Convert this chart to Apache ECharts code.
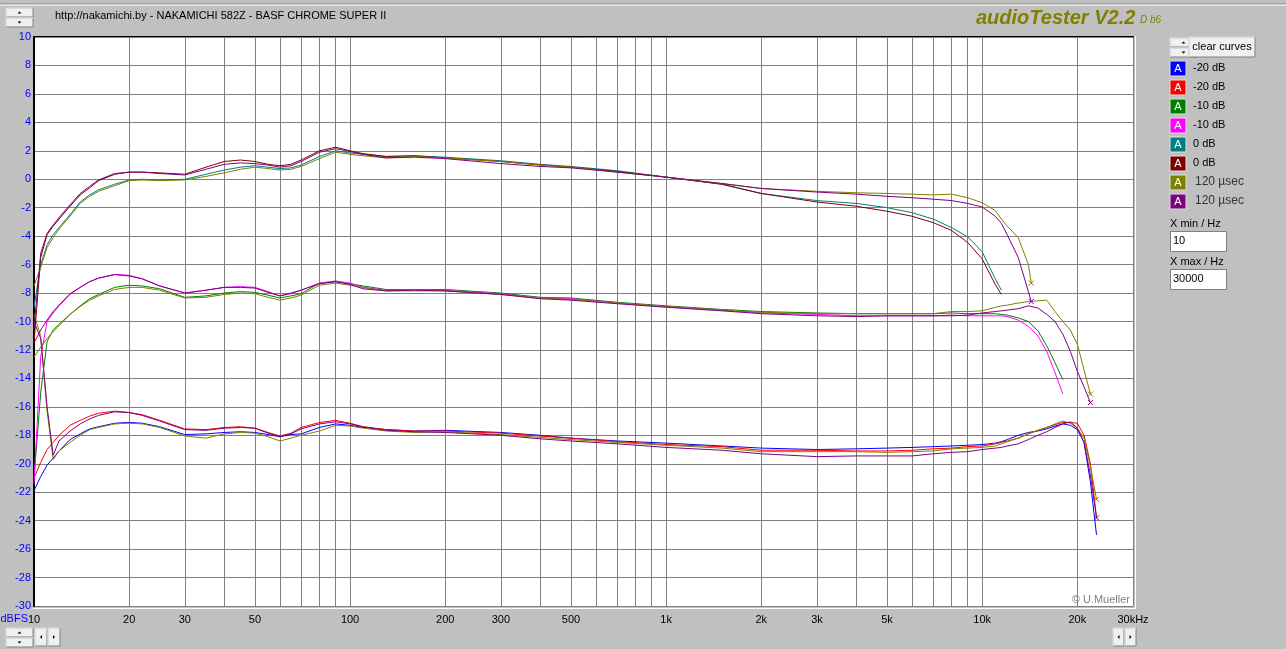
<!DOCTYPE html>
<html>
<head>
<meta charset="utf-8">
<title>NAKAMICHI 582Z - BASF CHROME SUPER II</title>
<script src="https://cdn.jsdelivr.net/npm/echarts@6/dist/echarts.min.js"></script>
<style>
  html, body { margin: 0; padding: 0; background: #c0c0c0; }
  #chart { width: 1286px; height: 649px; }
</style>
</head>
<body>
<div id="chart"></div>
<script>
// frequencies (Hz) shared by every curve
const FREQ = [10, 10.5, 11, 11.5, 12, 13, 14, 15, 16, 18,
  20, 22, 25, 30, 35, 40, 45, 50, 55, 60,
  65, 70, 80, 90, 100, 110, 130, 160, 200, 300,
  400, 500, 700, 1000, 1500, 2000, 3000, 4000, 5000, 6000,
  7000, 8000, 9000, 10000, 11000, 11500, 12000, 13000, 14000, 14300,
  15000, 16000, 17000, 18000, 19000, 20000, 21000, 22000, 23000]

// tick positions and labels of the frequency axis
const X_GRID = [10, 20, 30, 40, 50, 60, 70, 80, 90, 100, 200, 300, 400, 500, 600, 700, 800, 900,
  1000, 2000, 3000, 4000, 5000, 6000, 7000, 8000, 9000, 10000, 20000, 30000]
const X_LABELS = [10, 20, 30, 50, 100, 200, 300, 500, 1000, 2000, 3000, 5000, 10000, 20000, 30000]

// level in dB, null = curve has ended
const minus20Blue = [-21.9, -20.9, -20.1, -19.6, -19.1, -18.3, -17.9, -17.55, -17.4, -17.15,
  -17.1, -17.15, -17.4, -17.95, -17.9, -17.8, -17.75, -17.8, -17.95, -18.1,
  -17.95, -17.9, -17.45, -17.2, -17.3, -17.45, -17.6, -17.7, -17.65, -17.8,
  -18.0, -18.2, -18.4, -18.55, -18.75, -18.9, -19.0, -18.95, -18.9, -18.85,
  -18.8, -18.75, -18.7, -18.65, -18.55, -18.45, -18.3, -18.0, -17.8, null,
  -17.7, -17.55, -17.35, -17.2, -17.3, -17.6, -18.5, -21.3, -25.0]
const minus20Red = [-21.0, -19.9, -19.0, -18.5, -18.0, -17.3, -16.95, -16.65, -16.45, -16.3,
  -16.4, -16.55, -16.95, -17.55, -17.6, -17.45, -17.4, -17.5, -17.8, -18.05,
  -17.85, -17.45, -17.1, -16.95, -17.15, -17.4, -17.6, -17.7, -17.7, -17.85,
  -18.05, -18.2, -18.45, -18.65, -18.8, -19.05, -19.05, -19.1, -19.1, -19.05,
  -18.95, -18.9, -18.8, -18.75, -18.6, -18.5, -18.4, -18.2, -17.9, null,
  -17.65, -17.45, -17.25, -17.1, -17.1, -17.15, -18.0, -20.0, -23.8]
const minus10Green = [-21.0, -15.0, -11.4, -10.6, -10.2, -9.5, -8.9, -8.4, -8.1, -7.6,
  -7.45, -7.5, -7.7, -8.3, -8.2, -8.0, -7.9, -7.95, -8.15, -8.35,
  -8.2, -8.05, -7.3, -7.2, -7.35, -7.5, -7.75, -7.75, -7.75, -8.0,
  -8.3, -8.35, -8.65, -8.9, -9.15, -9.3, -9.4, -9.45, -9.45, -9.45,
  -9.45, -9.4, -9.45, -9.45, -9.45, -9.5, -9.55, -9.75, -10.0, null,
  -10.65, -11.7, -12.9, -14.1, null, null, null, null, null]
const minus10Magenta = [-21.4, -12.5, -10.0, -9.4, -8.9, -8.1, -7.6, -7.2, -6.95, -6.7,
  -6.75, -7.0, -7.5, -8.0, -7.8, -7.6, -7.55, -7.6, -7.9, -8.2,
  -8.05, -7.8, -7.3, -7.15, -7.3, -7.6, -7.8, -7.75, -7.8, -8.05,
  -8.35, -8.4, -8.7, -8.95, -9.2, -9.4, -9.5, -9.6, -9.6, -9.6,
  -9.6, -9.55, -9.6, -9.6, -9.6, -9.6, -9.65, -9.9, -10.35, null,
  -11.0, -12.1, -13.6, -15.1, null, null, null, null, null]
const zeroTeal = [-9.0, -6.0, -4.6, -3.9, -3.4, -2.5, -1.6, -1.1, -0.75, -0.35,
  -0.05, 0.0, -0.05, 0.0, 0.35, 0.65, 0.85, 0.95, 0.85, 0.75,
  0.8, 1.0, 1.6, 2.0, 1.85, 1.75, 1.6, 1.65, 1.55, 1.3,
  1.05, 0.9, 0.6, 0.15, -0.35, -1.0, -1.5, -1.7, -2.0, -2.35,
  -2.8, -3.4, -4.05, -5.1, -7.0, -7.8, null, null, null, null,
  null, null, null, null, null, null, null, null, null]
const zeroMaroon = [-11.5, -5.5, -3.9, -3.3, -2.8, -1.9, -1.1, -0.6, -0.1, 0.35,
  0.5, 0.5, 0.45, 0.35, 0.85, 1.25, 1.35, 1.25, 1.05, 0.95,
  1.05, 1.35, 2.0, 2.25, 2.0, 1.8, 1.6, 1.65, 1.5, 1.25,
  1.0, 0.85, 0.55, 0.15, -0.35, -1.0, -1.6, -1.9, -2.25, -2.6,
  -3.05, -3.6, -4.45, -5.6, -7.4, -8.1, null, null, null, null,
  null, null, null, null, null, null, null, null, null]
// 120 µsec curves at the three levels
const usecOlive0 = [-7.5, -6.2, -4.8, -4.1, -3.5, -2.6, -1.7, -1.2, -0.85, -0.45,
  -0.1, -0.05, -0.1, -0.05, 0.2, 0.45, 0.7, 0.85, 0.75, 0.65,
  0.7, 0.9, 1.45, 1.9, 1.75, 1.65, 1.5, 1.6, 1.5, 1.25,
  1.0, 0.85, 0.5, 0.15, -0.3, -0.65, -0.85, -0.95, -1.0, -1.05,
  -1.1, -1.05, -1.3, -1.65, -2.2, -2.8, -3.3, -4.1, -6.0, -7.3,
  null, null, null, null, null, null, null, null, null]
const usecPurple0 = [-10.5, -5.2, -3.8, -3.2, -2.7, -1.8, -1.0, -0.5, -0.05, 0.4,
  0.5, 0.5, 0.4, 0.3, 0.7, 1.05, 1.15, 1.1, 1.0, 0.85,
  0.95, 1.25, 1.9, 2.15, 1.95, 1.75, 1.5, 1.55, 1.45, 1.1,
  0.9, 0.8, 0.5, 0.15, -0.3, -0.65, -0.9, -1.05, -1.2, -1.3,
  -1.4, -1.5, -1.7, -1.95, -2.6, -3.1, -3.9, -5.5, -7.9, -8.6,
  null, null, null, null, null, null, null, null, null]
const usecOliveM10 = [-12.5, -11.8, -11.2, -10.7, -10.3, -9.5, -8.95, -8.5, -8.2, -7.75,
  -7.6, -7.6, -7.8, -8.35, -8.3, -8.1, -8.0, -8.05, -8.3, -8.5,
  -8.35, -8.15, -7.45, -7.3, -7.45, -7.6, -7.85, -7.85, -7.85, -8.1,
  -8.35, -8.45, -8.7, -8.95, -9.2, -9.35, -9.45, -9.45, -9.45, -9.45,
  -9.45, -9.3, -9.3, -9.25, -9.0, -8.9, -8.85, -8.7, -8.6, null,
  -8.55, -8.5, -9.3, -10.0, -10.6, -11.6, -13.4, -15.1, null]
const usecPurpleM10 = [-11.5, -10.6, -9.9, -9.3, -8.85, -8.05, -7.6, -7.2, -6.95, -6.7,
  -6.8, -7.0, -7.5, -8.0, -7.8, -7.6, -7.6, -7.65, -7.95, -8.2,
  -8.0, -7.8, -7.35, -7.2, -7.4, -7.7, -7.85, -7.8, -7.85, -8.1,
  -8.4, -8.5, -8.75, -9.0, -9.25, -9.45, -9.6, -9.65, -9.6, -9.6,
  -9.6, -9.6, -9.55, -9.4, -9.3, -9.25, -9.2, -9.1, -8.9, null,
  -9.05, -9.5, -10.0, -10.9, -12.1, -13.5, -14.6, -15.7, null]
const usecOliveM20 = [-9.5, -11.0, -16.3, -19.7, -19.1, -18.5, -18.0, -17.6, -17.45, -17.2,
  -17.15, -17.2, -17.45, -18.05, -18.2, -17.9, -17.8, -17.85, -18.1, -18.4,
  -18.2, -18.0, -17.7, -17.3, -17.35, -17.5, -17.7, -17.8, -17.75, -17.95,
  -18.15, -18.3, -18.5, -18.7, -18.9, -19.15, -19.15, -19.15, -19.2, -19.15,
  -19.1, -18.95, -18.9, -18.85, -18.75, -18.6, -18.45, -18.2, -17.9, null,
  -17.65, -17.45, -17.2, -17.0, -17.15, -17.5, -18.2, -20.2, -22.5]
const usecPurpleM20 = [-10.0, -11.2, -16.0, -19.4, -18.4, -17.7, -17.2, -16.85, -16.6, -16.35,
  -16.4, -16.6, -17.0, -17.6, -17.65, -17.5, -17.45, -17.5, -17.85, -18.1,
  -17.9, -17.55, -17.2, -17.05, -17.2, -17.4, -17.65, -17.75, -17.8, -18.0,
  -18.25, -18.4, -18.6, -18.85, -19.05, -19.3, -19.5, -19.45, -19.45, -19.45,
  -19.3, -19.2, -19.15, -19.0, -18.9, -18.85, -18.75, -18.6, -18.3, null,
  -18.0, -17.75, -17.45, -17.2, -17.05, -17.5, -18.5, -20.8, -23.8]

// legend entries shown in the side panel
const LEGEND_NAMES = ['-20 dB', '-20 dB', '-10 dB', '-10 dB', '0 dB', '0 dB', '120 µsec', '120 µsec']
const LEGEND_COLORS = ['#0000ff', '#ff0000', '#008000', '#ff00ff', '#008080', '#800000', '#808000', '#800080']

const FONT = 'Liberation Sans'
const CROSS = 'path://M0,0L10,10M10,0L0,10'

function curve(name, color, values, marked) {
  let last = -1
  values.forEach((v, i) => { if (v !== null) last = i })
  const data = FREQ.map((f, i) => {
    const v = values[i] === null ? '-' : values[i]
    if (marked && i === last) {
      return { value: [f, v], symbol: CROSS, symbolSize: 5,
        itemStyle: { color: 'none', borderColor: color, borderWidth: 1 } }
    }
    return [f, v]
  })
  return {
    name: name,
    type: 'line',
    data: data,
    symbol: 'none',
    connectNulls: true,
    silent: true,
    lineStyle: { color: color, width: 1 },
    itemStyle: { color: color },
    emphasis: { disabled: true }
  }
}

const series = [
  curve('-20 dB', '#0000ff', minus20Blue),
  curve('-20 dB', '#ff0000', minus20Red),
  curve('120 µsec', '#808000', usecOliveM20, true),
  curve('120 µsec', '#800080', usecPurpleM20, true),
  curve('-10 dB', '#008000', minus10Green),
  curve('-10 dB', '#ff00ff', minus10Magenta),
  curve('120 µsec', '#808000', usecOliveM10, true),
  curve('120 µsec', '#800080', usecPurpleM10, true),
  curve('0 dB', '#008080', zeroTeal),
  curve('0 dB', '#800000', zeroMaroon),
  curve('120 µsec', '#808000', usecOlive0, true),
  curve('120 µsec', '#800080', usecPurple0, true)
]

// window chrome: buttons, boxes, texts
function button(x, y, w, h) {
  return [
    { type: 'rect', shape: { x: x, y: y, width: w, height: h }, style: { fill: '#f0f0f0', stroke: '#808080', lineWidth: 1 } },
    { type: 'polyline', shape: { points: [[x, y + h], [x, y], [x + w, y]] }, style: { stroke: '#ffffff', lineWidth: 1 } }
  ]
}
function arrow(cx, cy, dir) {
  const p = dir === 'up' ? [[cx - 2, cy + 1], [cx + 2, cy + 1], [cx, cy - 1]]
    : dir === 'down' ? [[cx - 2, cy - 1], [cx + 2, cy - 1], [cx, cy + 1]]
    : dir === 'left' ? [[cx + 1, cy - 2], [cx + 1, cy + 2], [cx - 1, cy]]
    : [[cx - 1, cy - 2], [cx - 1, cy + 2], [cx + 1, cy]]
  return { type: 'polygon', shape: { points: p }, style: { fill: '#000' } }
}
function spinner(x, y) {
  return [].concat(button(x, y, 27, 9), button(x, y + 10, 27, 9),
    [arrow(x + 13.5, y + 4.5, 'up'), arrow(x + 13.5, y + 14.5, 'down')])
}
function text(str, x, y, extra) {
  return { type: 'text', x: x, y: y,
    style: Object.assign({ text: str, fontFamily: FONT, fontSize: 11, fill: '#000', verticalAlign: 'middle' }, extra || {}) }
}

let graphic = []
graphic.push({ type: 'line', shape: { x1: 0, y1: 4, x2: 1286, y2: 4 }, style: { stroke: '#808080', lineWidth: 1 } })
graphic.push({ type: 'line', shape: { x1: 0, y1: 5, x2: 1286, y2: 5 }, style: { stroke: '#ffffff', lineWidth: 1 } })
graphic = graphic.concat(spinner(6, 8))
graphic.push(text('http://nakamichi.by - NAKAMICHI 582Z - BASF CHROME SUPER II', 55, 16))
graphic.push(text('audioTester V2.2', 976, 18, { fontSize: 20, fontWeight: 'bold', fontStyle: 'italic', fill: '#808000' }))
graphic.push(text('D b6', 1140, 20, { fontSize: 10, fontStyle: 'italic', fill: '#808000' }))
// plot frame
graphic.push({ type: 'line', shape: { x1: 33, y1: 37, x2: 1134, y2: 37 }, style: { stroke: '#000', lineWidth: 2 } })
graphic.push({ type: 'line', shape: { x1: 33, y1: 608.5, x2: 1135, y2: 608.5 }, style: { stroke: '#ffffff', lineWidth: 1 } })
graphic.push({ type: 'line', shape: { x1: 1135.5, y1: 36, x2: 1135.5, y2: 609 }, style: { stroke: '#ffffff', lineWidth: 1 } })
graphic.push(text('dBFS', 28, 619, { fill: '#0000ff', align: 'right' }))
graphic.push(text('© U.Mueller', 1130, 600, { fill: '#808080', align: 'right' }))
// bottom controls
graphic = graphic.concat(spinner(6, 628), button(35, 628, 12, 18), button(48, 628, 12, 18),
  [arrow(41, 637, 'left'), arrow(54, 637, 'right')],
  button(1113, 628, 11, 18), button(1125, 628, 11, 18),
  [arrow(1118.5, 637, 'left'), arrow(1130.5, 637, 'right')])
// side panel
graphic = graphic.concat(spinner(1170, 38), button(1189, 37, 66, 20))
graphic.push(text('clear curves', 1222, 47, { align: 'center' }))
LEGEND_NAMES.forEach((name, i) => {
  const y = 61 + i * 19
  graphic.push({ type: 'rect', shape: { x: 1170, y: y, width: 16, height: 15 },
    style: { fill: LEGEND_COLORS[i], stroke: '#e0e0e0', lineWidth: 1 } })
  graphic.push(text('A', 1178, y + 8, { fill: '#ffffff', align: 'center' }))
  const usec = name.indexOf('µsec') >= 0
  graphic.push(text(name, usec ? 1195 : 1193, y + 7, { fill: usec ? '#333' : '#000', fontSize: usec ? 12 : 11 }))
})
graphic.push(text('X min / Hz', 1170, 224, { fontSize: 11 }))
graphic.push({ type: 'rect', shape: { x: 1170.5, y: 231.5, width: 56, height: 20 }, style: { fill: '#fff', stroke: '#808080', lineWidth: 1 } })
graphic.push(text('10', 1173, 241))
graphic.push(text('X max / Hz', 1170, 262, { fontSize: 11 }))
graphic.push({ type: 'rect', shape: { x: 1170.5, y: 269.5, width: 56, height: 20 }, style: { fill: '#fff', stroke: '#808080', lineWidth: 1 } })
graphic.push(text('30000', 1173, 279))

const chart = echarts.init(document.getElementById('chart'))
chart.setOption({
  animation: false,
  backgroundColor: '#c0c0c0',
  grid: { left: 34, top: 37, width: 1099, height: 569, show: true, backgroundColor: '#ffffff', borderWidth: 0 },
  xAxis: {
    type: 'log',
    logBase: 10,
    min: 10,
    max: 30000,
    axisLine: { show: false },
    axisTick: { show: false, customValues: X_GRID },
    splitLine: { show: true, lineStyle: { color: '#808080', width: 1 } },
    axisLabel: {
      customValues: X_LABELS,
      margin: 8,
      fontFamily: FONT,
      fontSize: 11,
      color: '#000',
      formatter: v => v === 30000 ? '30kHz' : (v >= 1000 ? (v / 1000) + 'k' : String(v))
    }
  },
  yAxis: {
    type: 'value',
    min: -30,
    max: 10,
    interval: 2,
    axisLine: { show: true, lineStyle: { color: '#000', width: 2 } },
    axisTick: { show: false },
    splitLine: { show: true, lineStyle: { color: '#808080', width: 1 } },
    axisLabel: { margin: 3, fontFamily: FONT, fontSize: 11, color: '#0000ff' }
  },
  series: series,
  graphic: graphic
})
</script>
</body>
</html>
